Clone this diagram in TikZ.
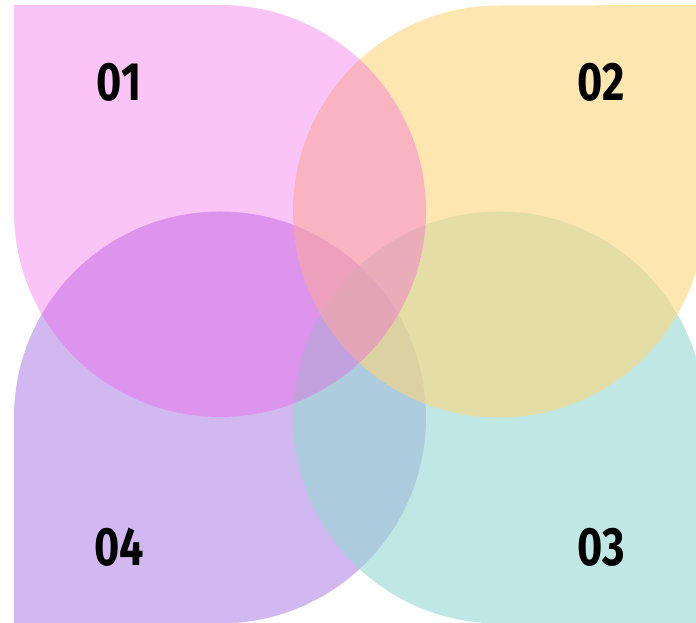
\documentclass[tikz,border=0pt]{standalone}
\usepackage{fontspec}
\newfontfamily\labfont[FakeStretch=0.8]{Fira Sans}
\definecolor{cpink}{RGB}{243,72,226}
\definecolor{cyellow}{RGB}{253,214,125}
\definecolor{cteal}{RGB}{148,217,210}
\definecolor{cpurple}{RGB}{180,137,232}
\begin{document}
\begin{tikzpicture}[x=1pt,y=1pt,
  lab/.style={font=\labfont\bfseries\fontsize{54}{54}\selectfont, inner sep=0pt, text=black}]
\useasboundingbox (0,0) rectangle (696,623);
\clip (0,0) rectangle (696,623);
% purple (04), bottom-left square corner
\fill[cpurple, fill opacity=0.6] (14,-0.5) -- (14,205.5) arc[start angle=180, end angle=-90, radius=206] -- cycle;
% teal (03), bottom-right square corner
\fill[cteal, fill opacity=0.6] (705,-0.5) -- (499,-0.5) arc[start angle=-90, end angle=-360, radius=206] -- cycle;
% yellow (02), top-right square corner
\fill[cyellow, fill opacity=0.6] (705,618) -- (705,411.5) arc[start angle=0, end angle=-270, radius=206] -- cycle;
% pink (01), top-left square corner
\fill[cpink, fill opacity=0.32] (14,618) -- (220,618) arc[start angle=90, end angle=-180, radius=206] -- cycle;
\node[lab] (l1) at (119,541) {01};
\node[lab] (l2) at (601,541) {02};
\node[lab] (l3) at (601,76) {03};
\node[lab] (l4) at (119,76) {04};
\end{tikzpicture}
\end{document}
